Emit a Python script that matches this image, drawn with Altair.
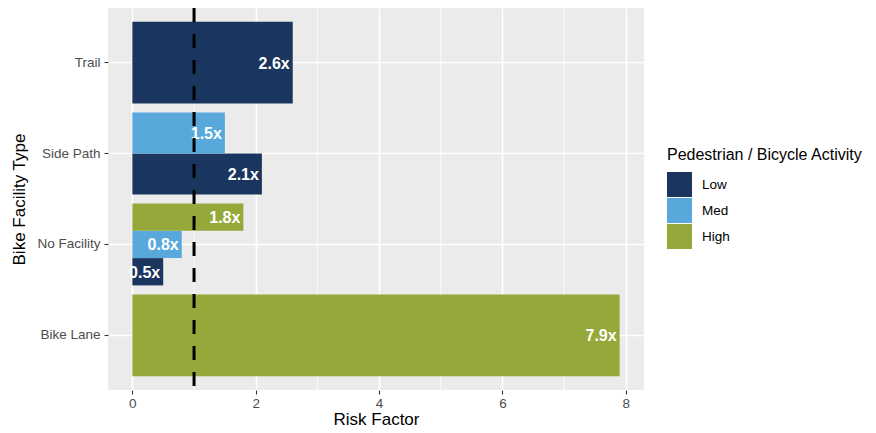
import altair as alt
import pandas as pd

facilities = ["Trail", "Side Path", "Side Path", "No Facility", "No Facility", "No Facility", "Bike Lane"]
activity = ["Low", "Low", "Med", "Low", "Med", "High", "High"]
risk = [2.6, 2.1, 1.5, 0.5, 0.8, 1.8, 7.9]
labels = ["2.6x", "2.1x", "1.5x", "0.5x", "0.8x", "1.8x", "7.9x"]

facility_order = ["Trail", "Side Path", "No Facility", "Bike Lane"]
activity_order = ["Low", "Med", "High"]
activity_colors = ["#1a365f", "#58a8dc", "#95a93b"]
x_ticks = [0, 2, 4, 6, 8]
x_minor = [1, 3, 5, 7]
reference_line = [1]

df = pd.DataFrame({"facility": facilities, "activity": activity, "risk": risk, "label": labels})
minor_df = pd.DataFrame({"x": x_minor})
ref_df = pd.DataFrame({"x": reference_line})

FONT = "Liberation Sans"

x_scale = alt.Scale(domain=[-0.395, 8.295], nice=False, zero=False)
y_scale = alt.Scale(domain=facility_order, paddingInner=0.1, paddingOuter=0.15)

x_enc = alt.X("risk:Q", scale=x_scale,
              axis=alt.Axis(values=x_ticks, format="d", title="Risk Factor", grid=True, gridColor="white",
                            gridWidth=1.6, domain=False, tickColor="#333333", tickSize=4,
                            tickWidth=1.1, labelColor="#4d4d4d", labelFontSize=13.5, labelPadding=2,
                            titleFontSize=17, titleColor="black", titleFontWeight="normal",
                            titlePadding=2, labelFont=FONT, titleFont=FONT))
y_enc = alt.Y("facility:N", scale=y_scale,
              axis=alt.Axis(title="Bike Facility Type", grid=True, gridColor="white",
                            gridWidth=1.6, domain=False, tickColor="#333333", tickSize=4,
                            tickWidth=1.1, labelColor="#4d4d4d", labelFontSize=13.5, labelPadding=4,
                            titleFontSize=17, titleColor="black", titleFontWeight="normal",
                            titlePadding=8, labelFont=FONT, titleFont=FONT))
color_enc = alt.Color("activity:N",
                      scale=alt.Scale(domain=activity_order, range=activity_colors),
                      legend=alt.Legend(title="Pedestrian / Bicycle Activity", orient="none",
                                        legendX=559, legendY=139, symbolType="square",
                                        symbolSize=625, symbolStrokeWidth=0, symbolOpacity=1,
                                        titleFontSize=16, titleFontWeight="normal", titleColor="black",
                                        titleLimit=0, labelLimit=0,
                                        labelFontSize=13.5, labelColor="black", labelOffset=10,
                                        rowPadding=1, titlePadding=9, labelFont=FONT, titleFont=FONT))


def group_layer(filter_expr, offset_order=None):
    base = alt.Chart(df).transform_filter(filter_expr)
    enc = dict(x=alt.X("risk:Q", scale=x_scale), y=alt.Y("facility:N", scale=y_scale))
    if offset_order is not None:
        enc["yOffset"] = alt.YOffset("activity:N",
                                     scale=alt.Scale(domain=offset_order, paddingInner=0, paddingOuter=0))
    bars = base.mark_bar(cornerRadius=0).encode(color=color_enc, **enc)
    text = base.mark_text(align="right", baseline="middle", dx=-3, dy=1, fontWeight="bold",
                          fontSize=16, color="white", font=FONT).encode(text="label:N", **enc)
    return alt.layer(bars, text)


axes_layer = alt.Chart(df).mark_point(opacity=0).encode(x=x_enc, y=y_enc)

minor_grid = alt.Chart(minor_df).mark_rule(color="white", strokeWidth=0.8).encode(
    x=alt.X("x:Q", scale=x_scale))

full = group_layer("datum.facility == 'Trail' || datum.facility == 'Bike Lane'")
side = group_layer("datum.facility == 'Side Path'", ["Med", "Low"])
nofac = group_layer("datum.facility == 'No Facility'", ["High", "Med", "Low"])

vline = alt.Chart(ref_df).mark_rule(color="black", strokeWidth=3, strokeDash=[14, 12]).encode(
    x=alt.X("x:Q", scale=x_scale))

chart = alt.layer(minor_grid, axes_layer, full, side, nofac, vline).resolve_scale(
    yOffset="independent"
).properties(
    width=536, height=382,
    autosize=alt.AutoSizeParams(type="none"),
    padding={"left": 100, "top": 0, "right": 224, "bottom": 40},
).configure(
    font=FONT,
    view=alt.ViewConfig(fill="#ebebeb", stroke=None),
)

chart.save("out.html", embed_options={"renderer": "svg", "actions": False})
